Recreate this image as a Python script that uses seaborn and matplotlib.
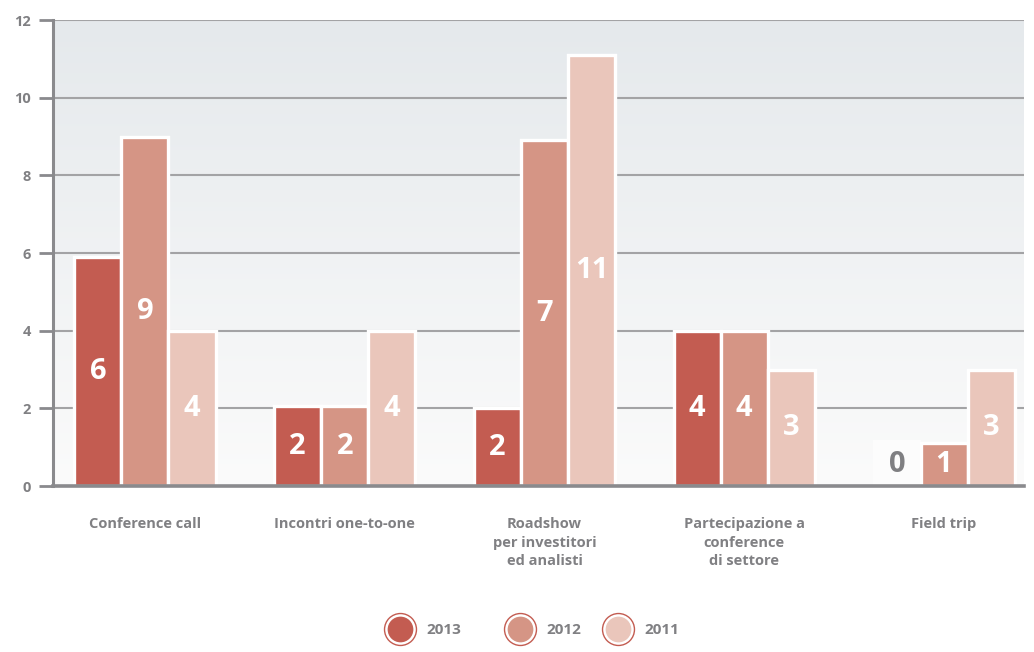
import numpy as np
import pandas as pd
import matplotlib
matplotlib.use("Agg")
import matplotlib.pyplot as plt
import seaborn as sns
from matplotlib.lines import Line2D
from matplotlib.legend_handler import HandlerTuple
from matplotlib.colors import LinearSegmentedColormap

categories = ["Conference call", "Incontri one-to-one", "Roadshow\nper investitori\ned analisti",
              "Partecipazione a\nconference\ndi settore", "Field trip"]
years = ["2013", "2012", "2011"]
heights_2013 = [5.9, 2.05, 2.0, 4.0, 0.0]
heights_2012 = [9.0, 2.05, 8.9, 4.0, 1.1]
heights_2011 = [4.0, 4.0, 11.1, 3.0, 3.0]
labels_2013 = ["6", "2", "2", "4", "0"]
labels_2012 = ["9", "2", "7", "4", "1"]
labels_2011 = ["4", "4", "11", "3", "3"]
colors = ["#c35c51", "#d59585", "#eac6bb"]
yticks = [0, 2, 4, 6, 8, 10, 12]

sns.set_theme(style="white")
plt.rcParams["font.family"] = ["Open Sans", "DejaVu Sans"]

rows = []
for yr, hs, ls in zip(years, [heights_2013, heights_2012, heights_2011],
                      [labels_2013, labels_2012, labels_2011]):
    for c, h, l in zip(categories, hs, ls):
        rows.append({"cat": c, "year": yr, "value": h, "label": l})
df = pd.DataFrame(rows)

W, H = 1034, 652
fig = plt.figure(figsize=(W / 100, H / 100), dpi=100)
ax = fig.add_axes([53 / W, 166 / H, (1024 - 53) / W, (486 - 20) / H])

# background gradient
grad = np.linspace(0, 1, 256).reshape(-1, 1)
cmap = LinearSegmentedColormap.from_list("bg", ["#fbfbfb", "#e5e9ec"])
ax.imshow(grad, aspect="auto", cmap=cmap, origin="lower",
          extent=[-0.46, 4.40, 0, 12], zorder=0)

for y in yticks[1:]:
    ax.axhline(y, color="#a3a3a5", lw=1.5, zorder=1)

sns.barplot(data=df, x="cat", y="value", hue="year", hue_order=years,
            palette=colors, width=0.707, edgecolor="white", linewidth=2.4,
            saturation=1, ax=ax, legend=False, zorder=3)

# value labels
nb = len(years)
bw = 0.707 / nb
for i, yr in enumerate(years):
    sub = df[df.year == yr]
    for j, (h, l) in enumerate(zip(sub.value, sub.label)):
        x = j - 0.707 / 2 + bw * (i + 0.5)
        if h <= 0:
            ax.add_patch(plt.Rectangle((x - bw / 2, 0), bw, 1.18, facecolor="white",
                                       alpha=0.6, edgecolor="none", zorder=2))
            ax.text(x, 0.55, l, ha="center", va="center", fontsize=21,
                    fontweight="bold", color="#7f7f82", zorder=5)
        else:
            ax.text(x, h / 2, l, ha="center", va="center", fontsize=21,
                    fontweight="bold", color="white", zorder=5)

ax.set_xlim(-0.46, 4.40)
ax.set_ylim(0, 12)
ax.set_yticks(yticks)
ax.set_yticklabels([str(v) for v in yticks], fontsize=10.5, fontweight="bold", color="#808083")
ax.set_xlabel("")
ax.set_ylabel("")
ax.tick_params(axis="y", length=10, width=2, color="#8a8a8d", pad=6, left=True)
ax.tick_params(axis="x", length=0, pad=22)
for lab in ax.get_xticklabels():
    lab.set_fontsize(10.5)
    lab.set_fontweight("bold")
    lab.set_color("#808083")
    lab.set_linespacing(1.45)
    lab.set_verticalalignment("top")

for s in ["top", "right"]:
    ax.spines[s].set_visible(False)
ax.spines["left"].set_color("#8a8a8d")
ax.spines["left"].set_linewidth(2.2)
ax.spines["bottom"].set_color("#8a8a8d")
ax.spines["bottom"].set_linewidth(2.6)
ax.spines["left"].set_zorder(6)
ax.spines["bottom"].set_zorder(6)

# legend: three separate entries placed like the reference
circle_centers = [399, 519, 617]
hl = 1.6
hl_px = hl * 10.5 * 100 / 72
for c, yr, cx in zip(colors, years, circle_centers):
    outer = Line2D([], [], marker="o", ls="none", markersize=23,
                   markerfacecolor="white", markeredgecolor="#c35c51", markeredgewidth=1.0)
    inner = Line2D([], [], marker="o", ls="none", markersize=18.5,
                   markerfacecolor=c, markeredgecolor="none")
    leg = fig.legend([(outer, inner)], [yr], handler_map={tuple: HandlerTuple(ndivide=1)},
                     loc="center left", bbox_to_anchor=((cx - hl_px / 2) / W, (652 - 630) / H),
                     frameon=False, borderpad=0, borderaxespad=0,
                     prop={"size": 11, "weight": "bold"},
                     handletextpad=0.95, handlelength=hl)
    for t in leg.get_texts():
        t.set_color("#808083")

fig.savefig("out.png", dpi=100, facecolor="white")
